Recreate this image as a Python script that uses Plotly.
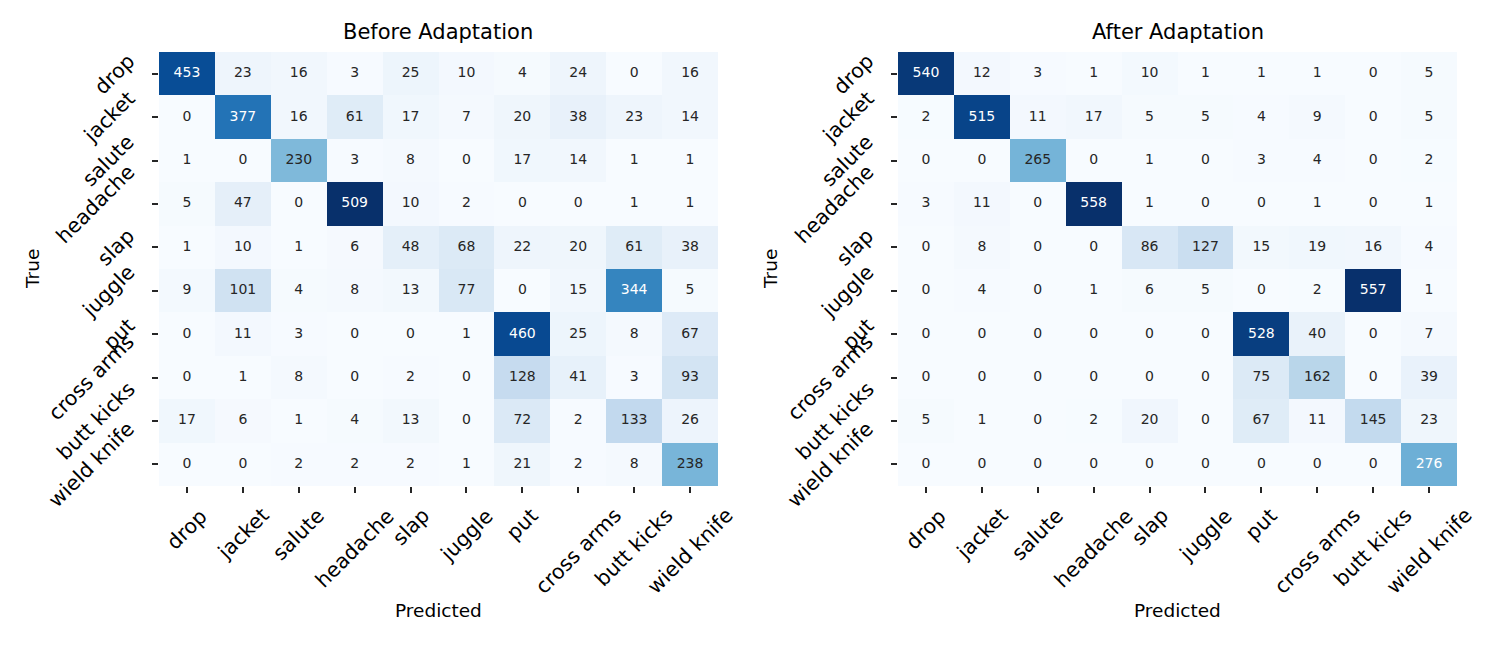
import plotly.graph_objects as go

classes = ["drop", "jacket", "salute", "headache", "slap", "juggle", "put",
           "cross arms", "butt kicks", "wield knife"]

before = [
    [453, 23, 16, 3, 25, 10, 4, 24, 0, 16],
    [0, 377, 16, 61, 17, 7, 20, 38, 23, 14],
    [1, 0, 230, 3, 8, 0, 17, 14, 1, 1],
    [5, 47, 0, 509, 10, 2, 0, 0, 1, 1],
    [1, 10, 1, 6, 48, 68, 22, 20, 61, 38],
    [9, 101, 4, 8, 13, 77, 0, 15, 344, 5],
    [0, 11, 3, 0, 0, 1, 460, 25, 8, 67],
    [0, 1, 8, 0, 2, 0, 128, 41, 3, 93],
    [17, 6, 1, 4, 13, 0, 72, 2, 133, 26],
    [0, 0, 2, 2, 2, 1, 21, 2, 8, 238],
]

after = [
    [540, 12, 3, 1, 10, 1, 1, 1, 0, 5],
    [2, 515, 11, 17, 5, 5, 4, 9, 0, 5],
    [0, 0, 265, 0, 1, 0, 3, 4, 0, 2],
    [3, 11, 0, 558, 1, 0, 0, 1, 0, 1],
    [0, 8, 0, 0, 86, 127, 15, 19, 16, 4],
    [0, 4, 0, 1, 6, 5, 0, 2, 557, 1],
    [0, 0, 0, 0, 0, 0, 528, 40, 0, 7],
    [0, 0, 0, 0, 0, 0, 75, 162, 0, 39],
    [5, 1, 0, 2, 20, 0, 67, 11, 145, 23],
    [0, 0, 0, 0, 0, 0, 0, 0, 0, 276],
]

titles = ["Before Adaptation", "After Adaptation"]
xlabel = "Predicted"
ylabel = "True"

blues = [(247, 251, 255), (222, 235, 247), (198, 219, 239), (158, 202, 225),
         (107, 174, 214), (66, 146, 198), (33, 113, 181), (8, 81, 156), (8, 48, 107)]
colorscale = [[i / 8, "rgb(%d,%d,%d)" % c] for i, c in enumerate(blues)]

FONT = "DejaVu Sans"
DARK = "#262626"
W, H = 1500, 645
OFF = 8  # page body margin


def px(x):
    return (x - OFF) / W


def py(y):
    return 1 - (y - OFF) / H


def cmap(t):
    t = max(0.0, min(1.0, t))
    p = t * 8
    i = min(int(p), 7)
    f = p - i
    a, b = blues[i], blues[i + 1]
    return [a[k] + (b[k] - a[k]) * f for k in range(3)]


def lum(rgb):
    out = []
    for v in rgb:
        v = v / 255
        out.append(v / 12.92 if v <= 0.03928 else ((v + 0.055) / 1.055) ** 2.4)
    return 0.2126 * out[0] + 0.7152 * out[1] + 0.0722 * out[2]


fig = go.Figure()

xpix = [(159, 718), (898, 1457)]
xdomains = [[px(a), px(b)] for a, b in xpix]
ydomain = [py(486), py(52)]
annotations = []

for k, (mat, title) in enumerate(zip([before, after], titles)):
    xa = "x" if k == 0 else "x2"
    ya = "y" if k == 0 else "y2"
    zmax = max(max(r) for r in mat)
    fig.add_trace(go.Heatmap(
        z=mat, x=classes, y=classes, xaxis=xa, yaxis=ya,
        colorscale=colorscale, zmin=0, zmax=zmax, showscale=False,
        hoverinfo="skip",
    ))
    xs, ys, txt, cols = [], [], [], []
    for i, row in enumerate(mat):
        for j, v in enumerate(row):
            xs.append(classes[j])
            ys.append(classes[i])
            txt.append(str(v))
            cols.append(DARK if lum(cmap(v / zmax)) > 0.408 else "white")
    fig.add_trace(go.Scatter(
        x=xs, y=ys, xaxis=xa, yaxis=ya, mode="text", text=txt,
        textfont=dict(family=FONT, size=14, color=cols),
        hoverinfo="skip", showlegend=False,
    ))
    axkey = "xaxis" if k == 0 else "xaxis2"
    aykey = "yaxis" if k == 0 else "yaxis2"
    fig.update_layout(**{
        axkey: dict(domain=xdomains[k], anchor=ya, type="category",
                    categoryorder="array", categoryarray=classes,
                    range=[-0.5, 9.5], showgrid=False, zeroline=False,
                    showline=False, ticks="outside", ticklen=6, tickwidth=1.5,
                    tickcolor=DARK, showticklabels=False, fixedrange=True),
        aykey: dict(domain=ydomain, anchor=xa, type="category",
                    categoryorder="array", categoryarray=classes,
                    range=[9.5, -0.5], showgrid=False, zeroline=False,
                    showline=False, ticks="outside", ticklen=6, tickwidth=1.5,
                    tickcolor=DARK, showticklabels=False, fixedrange=True),
    })
    x0p, x1p = xpix[k]
    xc = px((x0p + x1p) / 2)
    annotations.append(dict(text=title, xref="paper", yref="paper", x=xc,
                            y=py(32), xanchor="center", yanchor="middle",
                            showarrow=False, font=dict(family=FONT, size=21, color="black")))
    annotations.append(dict(text=xlabel, xref="paper", yref="paper", x=xc,
                            y=py(610), xanchor="center", yanchor="middle",
                            showarrow=False, font=dict(family=FONT, size=18.5, color="black")))
    annotations.append(dict(text=ylabel, xref="paper", yref="paper",
                            x=px(32 if k == 0 else 770), y=py(269),
                            xanchor="center", yanchor="middle", textangle=-90,
                            showarrow=False, font=dict(family=FONT, size=18.5, color="black")))
    for c in classes:
        annotations.append(dict(text=c, xref=xa, yref="paper", x=c, y=py(502),
                                xanchor="center", yanchor="top", textangle=-45,
                                showarrow=False, borderpad=0,
                                font=dict(family=FONT, size=20.5, color="black")))
        annotations.append(dict(text=c, xref="paper", yref=ya,
                                x=px(x0p - 18), y=c,
                                xanchor="right", yanchor="middle", textangle=-45,
                                showarrow=False, borderpad=0,
                                font=dict(family=FONT, size=20.5, color="black")))

fig.update_layout(
    width=W, height=H, margin=dict(l=0, r=0, t=0, b=0),
    paper_bgcolor="white", plot_bgcolor="white",
    annotations=annotations, showlegend=False,
)

fig.write_html("out.html")
